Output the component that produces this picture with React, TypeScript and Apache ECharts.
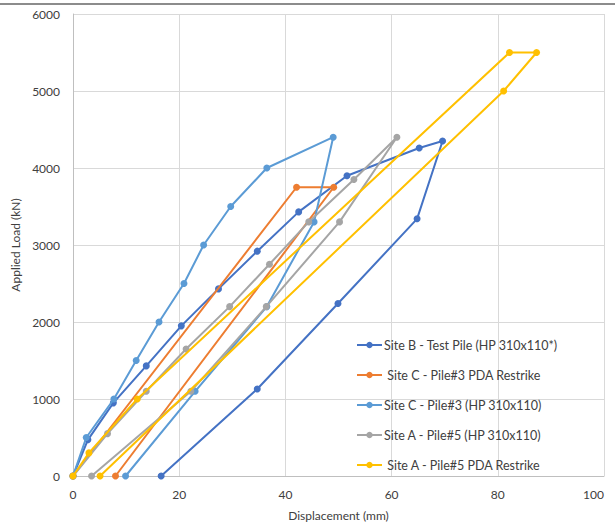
import React, { useEffect, useRef } from "react";
import * as echarts from "echarts";

const xTicks = [0, 20, 40, 60, 80, 100];
const yTicks = [0, 1000, 2000, 3000, 4000, 5000, 6000];

const seriesNames = [
  "Site B - Test Pile (HP 310x110*)",
  " Site C - Pile#3 PDA Restrike",
  "Site C - Pile#3 (HP 310x110)",
  "Site A - Pile#5 (HP 310x110)",
  " Site A - Pile#5 PDA Restrike",
];
const seriesColors = ["#4472C4", "#ED7D31", "#5B9BD5", "#A5A5A5", "#FFC000"];

const siteBDisp = [0, 2.8, 7.6, 13.8, 20.4, 27.4, 34.7, 42.5, 51.6, 65.2, 69.6, 64.8, 49.9, 34.7, 16.6];
const siteBLoad = [0, 470, 950, 1430, 1950, 2430, 2920, 3430, 3900, 4260, 4350, 3340, 2240, 1130, 0];

const siteCPdaDisp = [0, 42.1, 49.1, 8.0];
const siteCPdaLoad = [0, 3750, 3750, 0];

const siteCDisp = [0, 2.5, 7.7, 11.9, 16.2, 20.9, 24.6, 29.7, 36.5, 49.0, 45.4, 36.5, 23.0, 9.9];
const siteCLoad = [0, 500, 1000, 1500, 2000, 2500, 3000, 3500, 4000, 4400, 3300, 2200, 1100, 0];

const siteADisp = [0, 6.5, 13.8, 21.3, 29.5, 37.0, 44.4, 52.9, 61.0, 50.2, 36.4, 22.2, 3.5];
const siteALoad = [0, 550, 1100, 1650, 2200, 2750, 3300, 3850, 4400, 3300, 2200, 1100, 0];

const siteAPdaDisp = [0, 3.0, 12.1, 82.2, 87.3, 81.1, 5.1];
const siteAPdaLoad = [0, 300, 1000, 5500, 5500, 5000, 0];

const allDisp = [siteBDisp, siteCPdaDisp, siteCDisp, siteADisp, siteAPdaDisp];
const allLoad = [siteBLoad, siteCPdaLoad, siteCLoad, siteALoad, siteAPdaLoad];

const FONT = "Lato, 'Liberation Sans', sans-serif";

export default function App() {
  const ref = useRef<HTMLDivElement>(null);
  useEffect(() => {
    if (!ref.current) return;
    const chart = echarts.init(ref.current, undefined, { renderer: "svg" });
    const series = seriesNames.map((name, i) => ({
      name,
      type: "line",
      data: allDisp[i].map((d, j) => [d, allLoad[i][j]]),
      symbol: "circle",
      symbolSize: 7,
      showSymbol: true,
      lineStyle: { width: 2, color: seriesColors[i] },
      itemStyle: { color: seriesColors[i] },
      z: 2 + i,
    }));
    chart.setOption({
      animation: false,
      backgroundColor: "#ffffff",
      textStyle: { fontFamily: FONT },
      grid: { left: 73, right: 11, top: 14, bottom: 51, containLabel: false },
      xAxis: {
        type: "value",
        min: xTicks[0],
        max: xTicks[xTicks.length - 1],
        interval: 20,
        name: "Displacement (mm)",
        nameLocation: "middle",
        nameGap: 33,
        nameTextStyle: { color: "#404040", fontSize: 12, fontFamily: FONT },
        axisLine: { show: true, lineStyle: { color: "#bfbfbf" } },
        axisTick: { show: false },
        axisLabel: { color: "#404040", fontSize: 12, margin: 12, fontFamily: FONT, alignMaxLabel: "right" },
        splitLine: { show: true, lineStyle: { color: "#d9d9d9" } },
      },
      yAxis: {
        type: "value",
        min: yTicks[0],
        max: yTicks[yTicks.length - 1],
        interval: 1000,
        name: "Applied Load (kN)",
        nameLocation: "middle",
        nameGap: 46,
        nameRotate: 90,
        nameTextStyle: { color: "#404040", fontSize: 12, fontFamily: FONT },
        axisLine: { show: true, lineStyle: { color: "#bfbfbf" } },
        axisTick: { show: false },
        axisLabel: {
          color: "#404040",
          fontSize: 12,
          margin: 13,
          fontFamily: FONT,
          formatter: (v: number) => String(v),
        },
        splitLine: { show: true, lineStyle: { color: "#d9d9d9" } },
      },
      legend: {
        data: seriesNames,
        orient: "vertical",
        left: 351,
        top: 333,
        itemWidth: 25,
        itemHeight: 8,
        itemGap: 16,
        textStyle: {
          color: "#404040",
          fontSize: 12.5,
          lineHeight: 14,
          fontFamily: FONT,
          padding: [0, 0, 0, -3],
        },
        backgroundColor: "transparent",
      },
      series,
    });
    return () => chart.dispose();
  }, []);
  return (
    <div style={{ position: "fixed", left: 0, top: 0, width: 615, height: 527 }}>
      <div
        ref={ref}
        style={{ position: "absolute", left: 0, top: 0, width: 615, height: 527 }}
      />
      <div
        style={{
          position: "absolute",
          left: 0,
          top: 3,
          width: 615,
          height: 2,
          background: "#8c8c8c",
          pointerEvents: "none",
        }}
      />
    </div>
  );
}
